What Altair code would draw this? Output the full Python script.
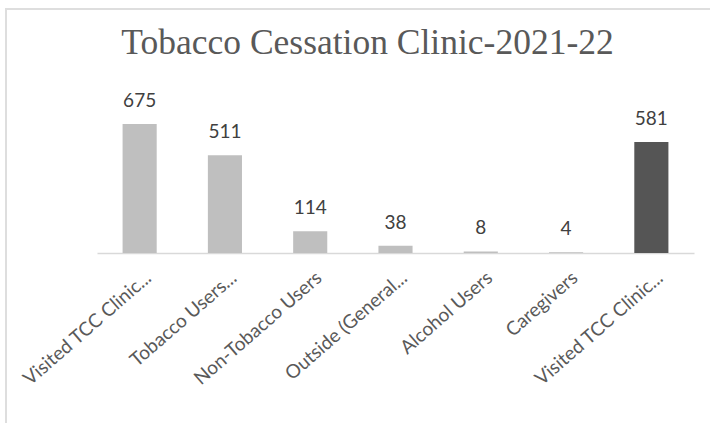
import json
import altair as alt
import pandas as pd

labels = ["Visited TCC Clinic...", "Tobacco Users...", "Non-Tobacco Users",
          "Outside (General...", "Alcohol Users", "Caregivers", "Visited TCC Clinic..."]
values = [675, 511, 114, 38, 8, 4, 581]
groups = ["a", "a", "a", "a", "a", "a", "b"]

df = pd.DataFrame({
    "idx": list(range(len(labels))),
    "label": labels,
    "value": values,
    "group": groups,
})

label_expr = json.dumps(labels) + "[datum.value]"

x_enc = alt.X("idx:O",
              scale=alt.Scale(paddingInner=0.6, paddingOuter=0.3),
              axis=alt.Axis(title=None, labelExpr=label_expr, labelAngle=-41,
                            labelFont="Lato", labelFontSize=19, labelColor="#595959",
                            labelPadding=15, labelOffset=3, ticks=False, domainColor="#d9d9d9",
                            domainWidth=1.5, labelOverlap=False, labelLimit=400))
y_enc = alt.Y("value:Q", scale=alt.Scale(domain=[0, 800]), axis=None)

base = alt.Chart(df).encode(x=x_enc, y=y_enc)

bars = base.mark_bar().encode(
    color=alt.Color("group:N", scale=alt.Scale(domain=["a", "b"], range=["#bfbfbf", "#555555"]),
                    legend=None)
)
text = base.mark_text(baseline="alphabetic", dy=-17, font="Lato", fontSize=19,
                      color="#404040").encode(text="value:Q")

frame_left = alt.Chart(df).mark_rule(color="#dedede", strokeWidth=2).encode(
    x=alt.value(-91), y=alt.value(-91), y2=alt.value(330))
frame_top = alt.Chart(df).mark_rule(color="#dedede", strokeWidth=1.5).encode(
    x=alt.value(-92), x2=alt.value(620), y=alt.value(-91))

chart = alt.layer(frame_left, frame_top, bars, text).properties(
    width=597, height=153,
    title=alt.TitleParams("Tobacco Cessation Clinic-2021-22", font="Liberation Serif",
                          fontSize=35.5, fontWeight="normal", color="#595959",
                          anchor="middle", frame="group", baseline="alphabetic",
                          dx=-28, offset=-81),
    autosize=alt.AutoSizeParams(type="none"),
    padding={"left": 97, "top": 100, "right": 16, "bottom": 170},
).configure_view(stroke=None)

chart.save("out.html", embed_options={"renderer": "svg", "actions": False})
